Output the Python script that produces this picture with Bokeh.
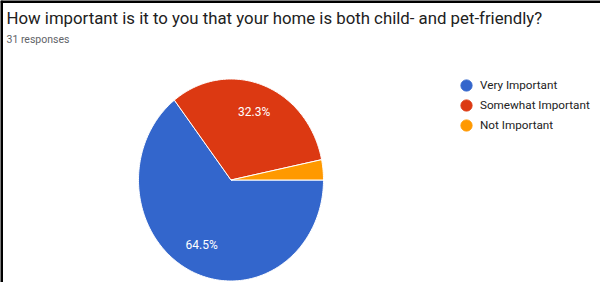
import numpy as np
from bokeh.plotting import figure
from bokeh.models import Range1d, Span, Label, Legend, LegendItem, ColumnDataSource
from bokeh.core.properties import value
from bokeh.embed import file_html
from bokeh.resources import INLINE

# ---- data ----
categories = ["Very Important", "Somewhat Important", "Not Important"]
counts = [20, 10, 1]
colors = ["#3366CC", "#DC3912", "#FF9900"]
title_text = "How important is it to you that your home is both child- and pet-friendly?"
subtitle_text = f"{sum(counts)} responses"

# ---- layout (canvas pixels) ----
W, H = 600, 282
cx, cy = 230.5, 179.5        # pie centre, from canvas top-left
rx, ry = 92.5, 101.0         # pie radii in px (picture is slightly stretched)

x0 = -cx / rx
x1 = (W - cx) / rx
y0 = -(H - cy) / ry
y1 = cy / ry

p = figure(width=W, height=H, x_range=Range1d(x0, x1), y_range=Range1d(y0, y1),
           output_backend="svg", toolbar_location=None, min_border=0)
p.axis.visible = False
p.grid.visible = False
p.outline_line_color = None
p.background_fill_color = "white"
p.border_fill_color = "white"

# ---- pie slices (start at 3 o'clock, clockwise) ----
vals = np.array(counts, dtype=float)
frac = vals / vals.sum()
ends = -2 * np.pi * np.cumsum(frac)
starts = np.concatenate([[0.0], ends[:-1]])
xs, ys = [], []
for a0, a1 in zip(starts, ends):
    n = max(int(abs(a1 - a0) / (2 * np.pi) * 360), 2)
    t = np.linspace(a0, a1, n + 1)
    xs.append(np.concatenate([[0.0], np.cos(t)]).tolist())
    ys.append(np.concatenate([[0.0], np.sin(t)]).tolist())
p.patches(xs=xs, ys=ys, fill_color=colors, line_color="white", line_width=1)

# ---- percentage labels ----
mids = (starts + ends) / 2
lab = [(np.cos(m) * 0.72, np.sin(m) * 0.72, f"{f*100:.1f}%") for m, f in zip(mids, frac) if f > 0.05]
src = ColumnDataSource(dict(x=[l[0] for l in lab], y=[l[1] for l in lab], t=[l[2] for l in lab]))
p.text(x="x", y="y", text="t", source=src, text_color="white", text_font=value("Roboto"),
       text_font_size="12px", text_align="center", text_baseline="middle")

# ---- legend: one row per Legend so rows sit 20px apart with 11px dots ----
row_top = 85.3   # centre of the first dot, px from canvas top
for i, (c, col) in enumerate(zip(categories, colors)):
    r = p.scatter(x=[np.nan], y=[np.nan], marker="circle", fill_color=col, line_color=col)
    centre = row_top + 20 * i
    leg = Legend(items=[LegendItem(label=c, renderers=[r])],
                 location=(452, H - (centre + 14)), glyph_width=28, glyph_height=28,
                 label_height=28, label_standoff=-2, padding=0, margin=0,
                 border_line_color=None, background_fill_alpha=0,
                 label_text_font="Roboto", label_text_font_size="11.7px",
                 label_text_color="#222222")
    p.add_layout(leg, "center")

# ---- title texts ----
p.add_layout(Label(x=6, y=H - 17, x_units="screen", y_units="screen", text=title_text,
                   text_font="Roboto", text_font_size="16.8px", text_color="#212121",
                   text_baseline="alphabetic"))
p.add_layout(Label(x=6, y=H - 39, x_units="screen", y_units="screen", text=subtitle_text,
                   text_font="Roboto", text_font_size="10.5px", text_color="#5f6368",
                   text_baseline="alphabetic"))

# ---- frame lines (top and left) ----
p.add_layout(Span(location=x0, dimension="height", line_color="black", line_width=5))
p.add_layout(Span(location=y1, dimension="width", line_color="black", line_width=5))

open("out.html", "w").write(file_html(p, INLINE))
